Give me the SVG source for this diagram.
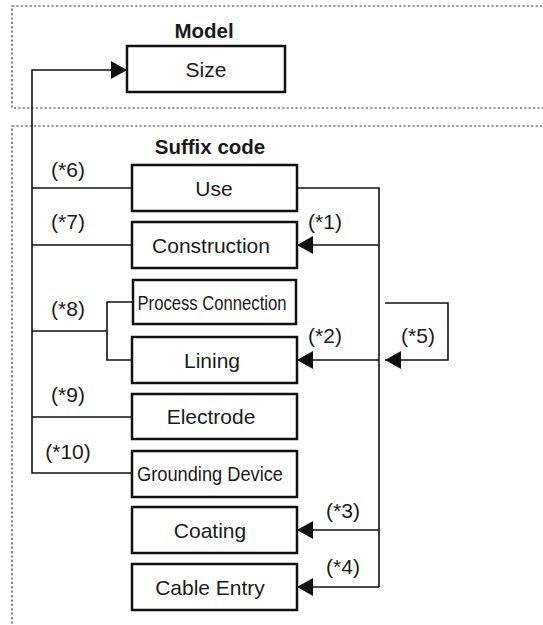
<svg xmlns="http://www.w3.org/2000/svg" width="543" height="625" viewBox="0 0 543 625">
<style>
.frame{fill:none;stroke:#333;stroke-width:1.2;stroke-dasharray:2.2,2.2}
.box{fill:#fff;stroke:#111;stroke-width:2.5}
.t{font-family:"Liberation Sans",Arial,sans-serif;font-size:21px;fill:#1a1a1a;text-anchor:middle}
.title{font-weight:bold;font-size:20.5px}
.c{fill:none;stroke:#111;stroke-width:1.6}
</style>
<defs>
<marker id="ah" markerUnits="userSpaceOnUse" markerWidth="16" markerHeight="18" refX="16" refY="9" orient="auto">
<path d="M0,0 L16,9 L0,18 Z" fill="#111"/>
</marker>
</defs>
<rect class="frame" x="12" y="6" width="545" height="102"/>
<rect class="frame" x="12" y="126" width="545" height="520"/>
<text class="t title" x="204" y="38">Model</text>
<text class="t title" x="210" y="154">Suffix code</text>
<g id="connectors">
<path class="c" d="M132,473 H32 V70 H127" marker-end="url(#ah)"/>
<path class="c" d="M32,188 H132"/>
<path class="c" d="M32,245 H132"/>
<path class="c" d="M32,331 H107"/>
<path class="c" d="M133,302 H107 V360 H132"/>
<path class="c" d="M32,417 H132"/>
<path class="c" d="M297,188 H379 V587"/>
<path class="c" d="M379,245 H297" marker-end="url(#ah)"/>
<path class="c" d="M379,360 H297" marker-end="url(#ah)"/>
<path class="c" d="M379,530 H297" marker-end="url(#ah)"/>
<path class="c" d="M379,587 H297" marker-end="url(#ah)"/>
<path class="c" d="M385,303 H448 V360 H385" marker-end="url(#ah)"/>
<text class="t" x="68" y="177">(*6)</text>
<text class="t" x="68" y="229">(*7)</text>
<text class="t" x="68" y="316">(*8)</text>
<text class="t" x="68" y="402">(*9)</text>
<text class="t" x="68" y="459">(*10)</text>
<text class="t" x="325" y="229">(*1)</text>
<text class="t" x="325" y="343">(*2)</text>
<text class="t" x="343" y="518">(*3)</text>
<text class="t" x="343" y="574">(*4)</text>
<text class="t" x="418" y="343">(*5)</text>
</g>
<g id="size"><rect class="box" x="127" y="46" width="158" height="46"/><text class="t" x="206" y="77">Size</text></g>
<g id="use"><rect class="box" x="132" y="165" width="165" height="46"/><text class="t" x="214" y="196">Use</text></g>
<g id="construction"><rect class="box" x="132" y="222" width="165" height="46"/><text class="t" x="211" y="253">Construction</text></g>
<g id="process-connection"><rect class="box" x="133" y="280" width="163" height="44"/><text class="t" x="212" y="310" textLength="149" lengthAdjust="spacingAndGlyphs">Process Connection</text></g>
<g id="lining"><rect class="box" x="132" y="337" width="165" height="46"/><text class="t" x="212" y="368">Lining</text></g>
<g id="electrode"><rect class="box" x="132" y="394" width="165" height="45"/><text class="t" x="211" y="424">Electrode</text></g>
<g id="grounding-device"><rect class="box" x="132" y="451" width="165" height="46"/><text class="t" x="210" y="481" textLength="146" lengthAdjust="spacingAndGlyphs">Grounding Device</text></g>
<g id="coating"><rect class="box" x="132" y="507" width="165" height="46"/><text class="t" x="210" y="538">Coating</text></g>
<g id="cable-entry"><rect class="box" x="132" y="564" width="165" height="46"/><text class="t" x="210" y="595">Cable Entry</text></g>
</svg>
